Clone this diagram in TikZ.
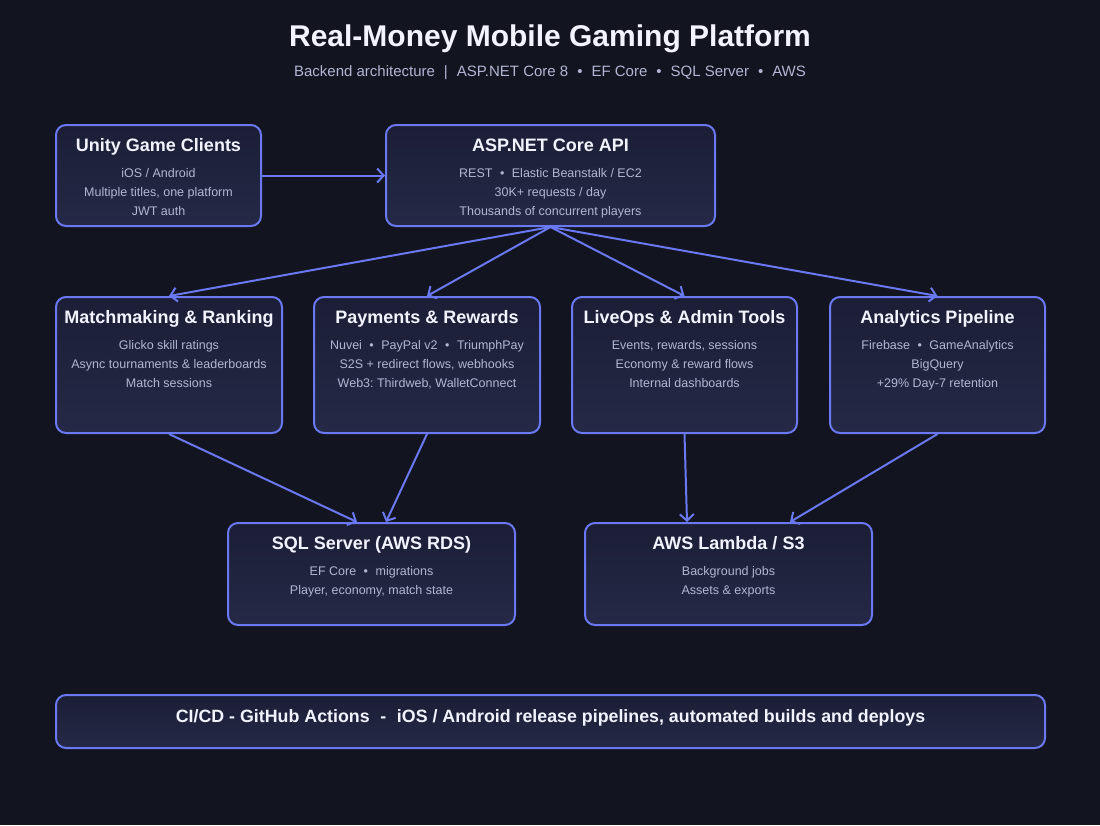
\documentclass[tikz,border=0pt]{standalone}
\usepackage{fontspec}
\setmainfont{Liberation Sans}
\usepackage{xcolor}
\usetikzlibrary{arrows.meta}
\frenchspacing

\definecolor{bgdark}{HTML}{121420}
\definecolor{boxtop}{HTML}{1C1E36}
\definecolor{boxbot}{HTML}{252947}
\definecolor{edge}{HTML}{6A78F2}
\definecolor{subgrey}{HTML}{B2B6D2}
\definecolor{titlewhite}{HTML}{F2F3FF}
\newcommand{\bul}{\hspace{0.6em}•\hspace{0.6em}}

\begin{document}
\begin{tikzpicture}[x=1pt, y=-1pt,
    card/.style={draw=edge, line width=2pt, rounded corners=10pt,
      top color=boxtop, bottom color=boxbot, inner sep=0pt},
    ttl/.style={anchor=base, text=titlewhite,
      font=\fontsize{18}{20}\selectfont\bfseries},
    body/.style={anchor=north, inner sep=0pt, align=center, text=subgrey,
      font=\fontsize{12.5}{19}\selectfont},
    flow/.style={draw=edge, line width=2pt,
      -{Straight Barb[length=6.5pt,width=14pt]}}]
  % background and page size
  \fill[bgdark] (0,0) rectangle (1100,825);
  \node[anchor=base, text=titlewhite, font=\fontsize{30}{34}\selectfont\bfseries]
    (title) at (550,46.5) {Real-Money Mobile Gaming Platform};
  \node[anchor=base, text=subgrey, font=\fontsize{15}{18}\selectfont]
    (subtitle) at (550,76) {Backend architecture\hspace{0.6em}|\hspace{0.6em}ASP.NET Core 8\bul EF Core\bul SQL Server\bul AWS};

  % boxes
  \node[card, minimum width=205pt, minimum height=101pt] (unity) at (158.5,175.5) {};
  \node[card, minimum width=329pt, minimum height=101pt] (api) at (550.5,175.5) {};
  \node[card, minimum width=226pt, minimum height=136pt] (match) at (169,365) {};
  \node[card, minimum width=226pt, minimum height=136pt] (pay) at (427,365) {};
  \node[card, minimum width=225pt, minimum height=136pt] (live) at (684.5,365) {};
  \node[card, minimum width=215pt, minimum height=136pt] (stats) at (937.5,365) {};
  \node[card, minimum width=287pt, minimum height=102pt] (sql) at (371.5,574) {};
  \node[card, minimum width=287pt, minimum height=102pt] (lambda) at (728.5,574) {};
  \node[card, minimum width=989pt, minimum height=53pt] (cicd) at (550.5,721.5) {};

  % box texts
  \node[ttl, yshift=-27pt] (unityT) at (unity.north) {Unity Game Clients};
  \node[body, yshift=-44pt] (unityB) at (unity.north)
    {iOS / Android\\Multiple titles, one platform\\JWT auth};
  \node[ttl, yshift=-27pt] (apiT) at (api.north) {ASP.NET Core API};
  \node[body, yshift=-44pt] (apiB) at (api.north)
    {REST\bul Elastic Beanstalk / EC2\\30K+ requests / day\\Thousands of concurrent players};
  \node[ttl, yshift=-27pt] (matchT) at (match.north) {Matchmaking \& Ranking};
  \node[body, yshift=-44pt] (matchB) at (match.north)
    {Glicko skill ratings\\Async tournaments \& leaderboards\\Match sessions};
  \node[ttl, yshift=-27pt] (payT) at (pay.north) {Payments \& Rewards};
  \node[body, yshift=-44pt] (payB) at (pay.north)
    {Nuvei\bul PayPal v2\bul TriumphPay\\S2S + redirect flows, webhooks\\Web3: Thirdweb, WalletConnect};
  \node[ttl, yshift=-27pt] (liveT) at (live.north) {LiveOps \& Admin Tools};
  \node[body, yshift=-44pt] (liveB) at (live.north)
    {Events, rewards, sessions\\Economy \& reward flows\\Internal dashboards};
  \node[ttl, yshift=-27pt] (statsT) at (stats.north) {Analytics Pipeline};
  \node[body, yshift=-44pt] (statsB) at (stats.north)
    {Firebase\bul GameAnalytics\\BigQuery\\+29\% Day-7 retention};
  \node[ttl, yshift=-27pt] (sqlT) at (sql.north) {SQL Server (AWS RDS)};
  \node[body, yshift=-44pt] (sqlB) at (sql.north)
    {EF Core\bul migrations\\Player, economy, match state};
  \node[ttl, yshift=-27pt] (lambdaT) at (lambda.north) {AWS Lambda / S3};
  \node[body, yshift=-44pt] (lambdaB) at (lambda.north)
    {Background jobs\\Assets \& exports};
  \node[anchor=base, text=titlewhite, font=\fontsize{17.8}{20}\selectfont\bfseries]
    (cicdT) at (550.5,722.5) {CI/CD - GitHub Actions\hspace{0.6em}-\hspace{0.6em}iOS / Android release pipelines, automated builds and deploys};

  % connectors
  \draw[flow] (unity) -- (api);
  \foreach \t in {match,pay,live,stats}
    \draw[flow] (api.south) -- (\t.north);
  \draw[flow] (match.south) -- ([xshift=-14.5pt]sql.north);
  \draw[flow] (pay.south) -- ([xshift=14.5pt]sql.north);
  \draw[flow] (live.south) -- ([xshift=-41.5pt]lambda.north);
  \draw[flow] (stats.south) -- ([xshift=61.5pt]lambda.north);
\end{tikzpicture}
\end{document}
